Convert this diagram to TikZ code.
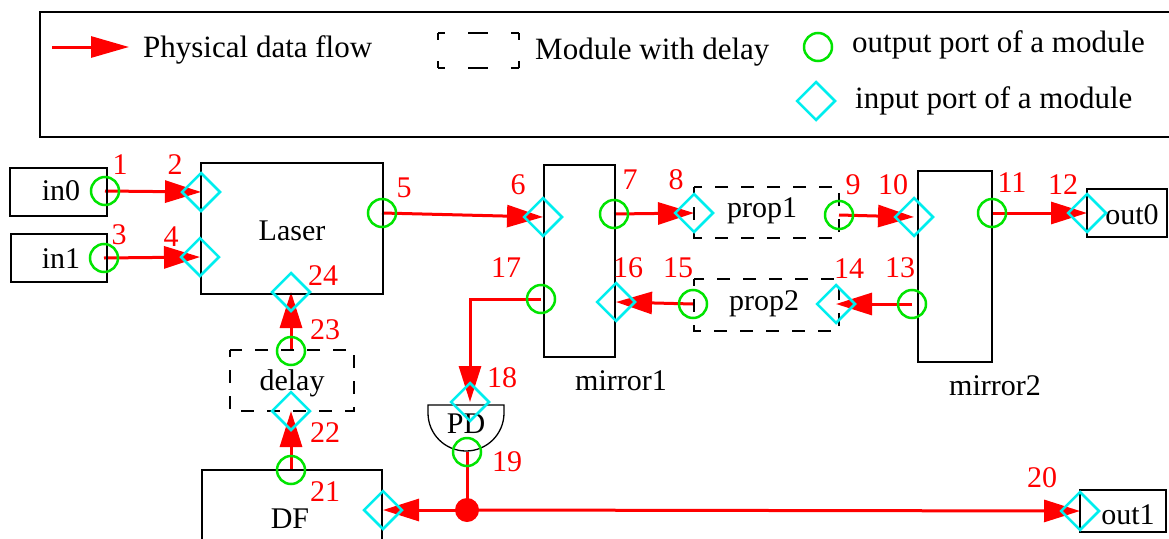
\documentclass[tikz,border=0pt]{standalone}
\usepackage{fontspec}
\setmainfont{Liberation Serif}
\newfontfamily\timesfont{Liberation Serif}
\usetikzlibrary{arrows.meta,shapes.geometric}
\definecolor{pgreen}{RGB}{0,228,0}
\definecolor{pcyan}{RGB}{0,238,238}
\pgfdeclarelayer{bg}
\pgfsetlayers{bg,main}
\begin{document}
\begin{tikzpicture}[x=1pt,y=-1pt,
  outp/.style={circle,draw=pgreen,line width=2.5pt,minimum size=28pt,inner sep=0pt},
  inp/.style={diamond,draw=pcyan,line width=2.5pt,minimum width=39pt,minimum height=39pt,inner sep=0pt},
  flow/.style={draw=red,line width=3pt,-{Triangle[length=36pt,width=22pt]}},
  wire/.style={draw=red,line width=3pt},
  num/.style={text=red,inner sep=0pt,font=\timesfont\fontsize{30}{36}\selectfont},
  txt/.style={inner sep=0pt,anchor=base,font=\timesfont\fontsize{30}{36}\selectfont},
  ltxt/.style={inner sep=0pt,anchor=base west,font=\timesfont\fontsize{31}{37}\selectfont},
  box/.style={draw=black,line width=1.3pt},
  dbox/.style={box,dash pattern=on 13pt off 13pt,dash phase=6pt},
]
\useasboundingbox (0,0) rectangle (1169,538);

% ---------- legend ----------
\draw[box] (1169,12) -- (40,12) -- (40,137) -- (1169,137);
\coordinate (la0) at (52,47);
\coordinate (la1) at (129,47);
\draw[flow,-{Triangle[length=38pt,width=21pt]}] (la0) -- (la1);
\node[ltxt] (lflow) at (143,57) {Physical data flow};
\draw[box,dash pattern=on 7pt off 23pt on 20pt off 23pt on 8pt off 200pt] (438,33) -- (519,33);
\draw[box,dash pattern=on 7pt off 23pt on 20pt off 23pt on 8pt off 200pt] (438,68) -- (519,68);
\draw[box,dash pattern=on 7pt off 21pt on 7pt off 200pt] (438,33) -- (438,68);
\draw[box,dash pattern=on 7pt off 21pt on 7pt off 200pt] (519,33) -- (519,68);
\node[ltxt] (ldelay) at (535,59) {Module with delay};
\node[outp] (lout) at (818,47) {};
\node[ltxt] (louttxt) at (852,52) {output port of a module};
\node[inp] (lin) at (816,101) {};
\node[ltxt] (lintxt) at (855,108) {input port of a module};

% ---------- modules ----------
\draw[box] (10,168) rectangle (107,216);
\node[txt] (tin0) at (61,200) {in0};
\draw[box] (11,234) rectangle (107,282);
\node[txt] (tin1) at (61,268) {in1};
\draw[box] (201,163) rectangle (383,294);
\node[txt] (tlaser) at (292,240) {Laser};
\draw[box] (544,165) rectangle (615,357);
\node[txt] (tm1) at (621,390) {mirror1};
\draw[box] (918,171) rectangle (992,362);
\node[txt] (tm2) at (995,395) {mirror2};
\draw[box] (1087,189) rectangle (1167,237);
\node[txt] (tout0) at (1132,224) {out0};
\draw[box] (1080,490) rectangle (1166,532);
\node[txt] (tout1) at (1128,524) {out1};
\draw[box] (202,545) -- (202,470) -- (382,470) -- (382,545);
\node[txt] (tdf) at (290,528) {DF};
\draw[dbox] (230,350) rectangle (354,411);
\node[txt] (tdly) at (292,390) {delay};
\draw[dbox] (694,187) rectangle (839,238);
\node[txt] (tp1) at (762,217) {prop1};
\draw[dbox] (694,279) rectangle (839,331);
\node[txt] (tp2) at (764,310) {prop2};
\draw[box] (428,405) -- (504,405) -- (504,413) arc (0:180:38) -- cycle;
\node[txt] (tpd) at (466,433) {PD};

% ---------- ports ----------
\node[outp] (p1) at (105,191) {};
\node[inp]  (p2) at (201,192) {};
\node[outp] (p3) at (104,258) {};
\node[inp]  (p4) at (200,257) {};
\node[outp] (p5) at (382,213) {};
\node[inp]  (p6) at (543,217) {};
\node[outp] (p7) at (614,214) {};
\node[inp]  (p8) at (694,213) {};
\node[outp] (p9) at (839,215) {};
\node[inp]  (p10) at (914,217) {};
\node[outp] (p11) at (992,213) {};
\node[inp]  (p12) at (1087,213) {};
\node[outp] (p13) at (912,304) {};
\node[inp]  (p14) at (836,304) {};
\node[outp] (p15) at (693,304) {};
\node[inp]  (p16) at (616,302) {};
\node[outp] (p17) at (541,299) {};
\node[inp]  (p18) at (470,402) {};
\node[outp] (p19) at (467,452) {};
\node[inp]  (p20) at (1080,511) {};
\node[outp] (p21) at (291,470) {};
\node[inp]  (p22) at (291,411) {};
\node[outp] (p23) at (291,351) {};
\node[inp]  (p24) at (291,292) {};
\node[inp]  (pdf) at (383,510) {};
\node[circle,fill=red,minimum size=24pt,inner sep=0pt] (j) at (467,510) {};

% ---------- port numbers ----------
\node[num] (n1) at (120,165) {1};
\node[num] (n2) at (175,165) {2};
\node[num] (n3) at (119,235) {3};
\node[num] (n4) at (171,237) {4};
\node[num] (n5) at (404,188) {5};
\node[num] (n6) at (518,185) {6};
\node[num] (n7) at (630,180) {7};
\node[num] (n8) at (676,180) {8};
\node[num] (n9) at (853,185) {9};
\node[num] (n10) at (893,185) {10};
\node[num] (n11) at (1012,183) {11};
\node[num] (n12) at (1063,185) {12};
\node[num] (n13) at (900,268) {13};
\node[num] (n14) at (849,269) {14};
\node[num] (n15) at (678,268) {15};
\node[num] (n16) at (628,268) {16};
\node[num] (n17) at (506,268) {17};
\node[num] (n18) at (502,378) {18};
\node[num] (n19) at (507,462) {19};
\node[num] (n20) at (1042,478) {20};
\node[num] (n21) at (325,492) {21};
\node[num] (n22) at (325,433) {22};
\node[num] (n23) at (325,330) {23};
\node[num] (n24) at (323,276) {24};

% ---------- connectors ----------
\begin{pgfonlayer}{bg}
\draw[flow] (p1.center) -- (p2.center);
\draw[flow] (p3.center) -- (p4.center);
\draw[flow] (p5.center) -- (p6.center);
\draw[flow] (p7.center) -- (p8.center);
\draw[flow] (p9.center) -- (p10.center);
\draw[flow] (p11.center) -- (p12.center);
\draw[flow] (p13.center) -- (p14.center);
\draw[flow] (p15.center) -- (p16.center);
\draw[flow] (p17.center) -| (p18.center);
\draw[wire] (p19.center) -- (j.center);
\draw[flow] (j.center) -- (p20.center);
\draw[flow] (j.center) -- (pdf.center);
\draw[flow] (p21.center) -- (p22.center);
\draw[flow] (p23.center) -- (p24.center);
\end{pgfonlayer}
\end{tikzpicture}
\end{document}
